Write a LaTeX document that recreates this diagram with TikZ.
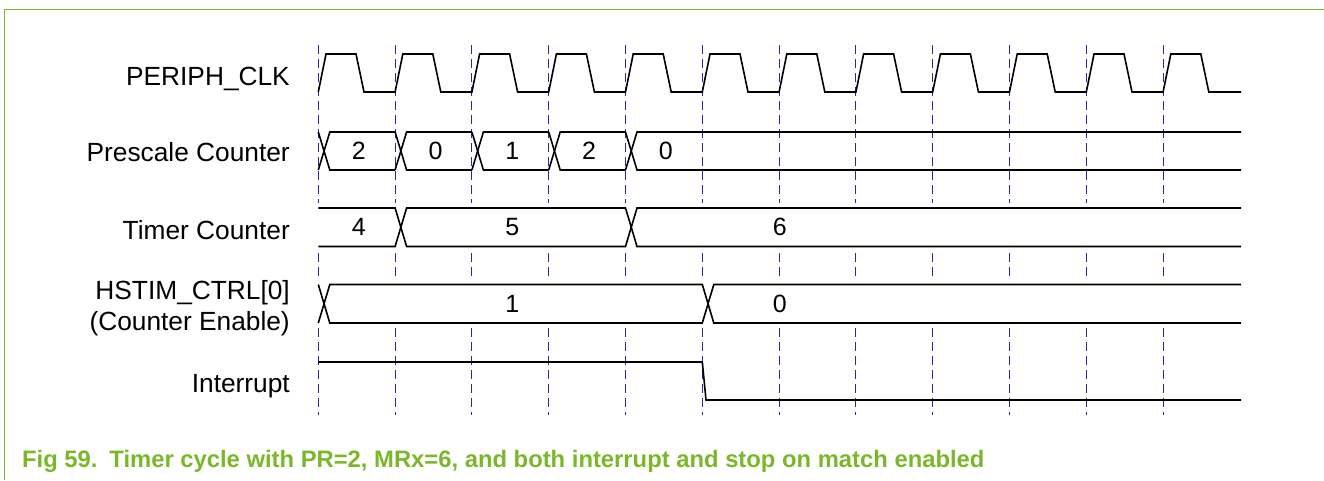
\documentclass[tikz,border=0pt]{standalone}
\usepackage{fontspec}
\setmainfont{Liberation Sans}
\definecolor{nxpgreen}{RGB}{122,184,42}
\definecolor{gridblue}{RGB}{40,40,160}
\begin{document}
\begin{tikzpicture}[x=1pt,y=-1pt,
  wave/.style={line width=1.6pt, black, line join=miter},
  gridline/.style={gridblue, line width=0.9pt, dash pattern=on 9pt off 5pt},
  siglabel/.style={anchor=base east, inner sep=0pt, font=\fontsize{26.3}{30}\selectfont},
  val/.style={anchor=base, inner sep=0pt, font=\fontsize{25}{28}\selectfont},
  caption/.style={anchor=base west, inner sep=0pt, text=nxpgreen, font=\bfseries\fontsize{23.8}{28}\selectfont}
]
\useasboundingbox (0,0) rectangle (1324,480);
% frame
\draw[nxpgreen, line width=1.5pt] (4.5,480) -- (4.5,9.7) -- (1324,9.7);
% grid lines
\foreach \k in {0,...,11} {
  \draw[gridline] ({318.3+76.8*\k},45) -- ({318.3+76.8*\k},203);
  \draw[gridline] ({318.3+76.8*\k},253) -- ({318.3+76.8*\k},277);
  \draw[gridline] ({318.3+76.8*\k},328) -- ({318.3+76.8*\k},415);
}
% clock
\draw[wave] (318.3,92) \foreach \k in {0,...,11} { -- ++(7.7,-38) -- ++(30,0) -- ++(8,38) -- ++(31.1,0) } -- (1241,92);
% prescale counter
\foreach \k in {0,...,3} {
  \draw[wave] ({318.3+76.8*\k},170) -- ({329.8+76.8*\k},132) -- ({395.1+76.8*\k},132);
  \draw[wave] ({318.3+76.8*\k},132) -- ({329.8+76.8*\k},170) -- ({395.1+76.8*\k},170);
}
\draw[wave] (625.5,170) -- (637,132) -- (1241,132);
\draw[wave] (625.5,132) -- (637,170) -- (1241,170);
% timer counter
\draw[wave] (318.3,208) -- (395.1,208) -- (406.6,246.5) -- (625.5,246.5) -- (637,208) -- (1241,208);
\draw[wave] (318.3,246.5) -- (395.1,246.5) -- (406.6,208) -- (625.5,208) -- (637,246.5) -- (1241,246.5);
% HSTIM_CTRL[0]
\draw[wave] (318.3,284.5) -- (329.8,323) -- (702.3,323) -- (713.8,284.5) -- (1241,284.5);
\draw[wave] (318.3,323) -- (329.8,284.5) -- (702.3,284.5) -- (713.8,323) -- (1241,323);
% interrupt
\draw[wave] (318.3,362) -- (702.3,362) -- (706,400) -- (1241,400);
% signal labels
\node[siglabel] (lclk) at (290,85) {PERIPH\_CLK};
\node[siglabel] (lpre) at (290,161.7) {Prescale Counter};
\node[siglabel] (ltc) at (290,239.3) {Timer Counter};
\node[siglabel] (lhs1) at (290,299.3) {HSTIM\_CTRL[0]};
\node[siglabel] (lhs2) at (290,330) {(Counter Enable)};
\node[siglabel] (lint) at (290,392.7) {Interrupt};
% values
\node[val] (p0) at (358.7,159.8) {2};
\node[val] (p1) at (435.5,159.8) {0};
\node[val] (p2) at (512.3,159.8) {1};
\node[val] (p3) at (589.1,159.8) {2};
\node[val] (p4) at (665.8,159.8) {0};
\node[val] (t4) at (358.7,235.8) {4};
\node[val] (t5) at (512.3,235.8) {5};
\node[val] (t6) at (779.7,235.8) {6};
\node[val] (h1) at (512.3,312.3) {1};
\node[val] (h0) at (779.7,312.3) {0};
% caption
\node[caption] (cap) at (22,467.5) {Fig 59.\hspace{3pt} Timer cycle with PR=2, MRx=6, and both interrupt and stop on match enabled};
\end{tikzpicture}
\end{document}
